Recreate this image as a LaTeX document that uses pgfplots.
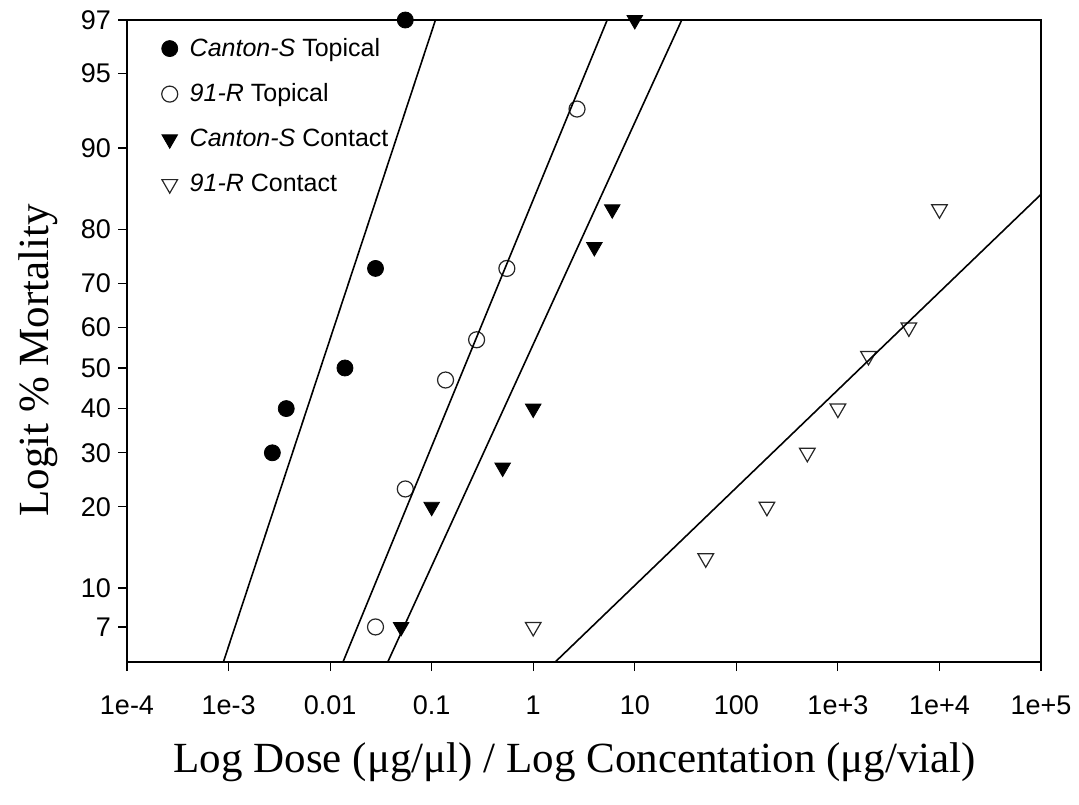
\documentclass[border=0pt]{standalone}
\usepackage{fontspec}
\setmainfont{Liberation Sans}
\newfontfamily\seriffont{Liberation Serif}
\usepackage{pgfplots}
\pgfplotsset{compat=1.18}
\begin{document}
\begin{tikzpicture}
\useasboundingbox (0,0) rectangle (539.5pt,402pt);
\begin{axis}[
  at={(63.5pt,71pt)}, anchor=south west,
  width=457pt, height=321pt, scale only axis,
  xmode=log, xmin=1e-4, xmax=1e5,
  ymin=-2.937, ymax=3.4761,
  y filter/.expression={ln(y/(100-y))},
  xtick={1e-4,1e-3,1e-2,1e-1,1,10,100,1e3,1e4,1e5},
  xticklabels={1e-4,1e-3,0.01,0.1,1,10,100,1e+3,1e+4,1e+5},
  xminorticks=false, yminorticks=false,
  ytick={-2.5867,-2.1972,-1.3863,-0.8473,-0.4055,0,0.4055,0.8473,1.3863,2.1972,2.9444,3.4761},
  yticklabels={7,10,20,30,40,50,60,70,80,90,95,97},
  tick align=outside, xtick pos=bottom, ytick pos=left,
  major tick length=4.5pt,
  tick style={black, line width=0.6pt},
  axis line style={line width=0.6pt},
  tick label style={font=\fontsize{13.5}{16}\selectfont},
  xticklabel style={yshift=-9pt},
  xlabel={Log Dose (μg/μl) / Log Concentation (μg/vial)},
  ylabel={Logit \% Mortality},
  label style={font=\seriffont\fontsize{21.5}{26}\selectfont},
  xlabel style={at={(axis description cs:0.49,0)}, anchor=center, yshift=-50pt},
  ylabel style={at={(axis description cs:0,0.47)}, anchor=center, yshift=44.5pt},
  clip mode=individual,
  legend style={draw=none, fill=none, at={(0.031,0.985)}, anchor=north west,
    font=\fontsize{12.5}{15}\selectfont, row sep=8.2pt},
  legend cell align=left,
]
\addplot[only marks, mark=*, mark size=4pt, mark options={fill=black, draw=black}]
  coordinates {(0.0027,30) (0.0037,40) (0.014,50) (0.028,73) (0.055,97)};
\addlegendentry{\hspace{4pt}\textit{Canton-S} Topical}
\addplot[only marks, mark=o, mark size=4pt, mark options={draw=black!85, fill=white, line width=0.6pt}]
  coordinates {(0.028,7) (0.055,23) (0.137,47) (0.277,57) (0.55,73) (2.7,93)};
\addlegendentry{\hspace{4pt}\textit{91-R} Topical}
\addplot[only marks, mark=triangle*, mark size=4.5pt, mark options={rotate=180, fill=black, draw=black}]
  coordinates {(0.05,7) (0.1,20) (0.5,27) (1,40) (4,77) (6,83) (10,97)};
\addlegendentry{\hspace{4pt}\textit{Canton-S} Contact}
\addplot[only marks, mark=triangle, mark size=4.5pt, mark options={rotate=180, draw=black!85, fill=white, line width=0.6pt}]
  coordinates {(1,7) (50,13) (200,20) (500,30) (1000,40) (2000,53) (5000,60) (10000,83)};
\addlegendentry{\hspace{4pt}\textit{91-R} Contact}
\addplot[black, line width=0.8pt, forget plot] coordinates {(0.00089,5.04) (0.109,97)};
\addplot[black, line width=0.8pt, forget plot] coordinates {(0.0134,5.04) (5.35,97)};
\addplot[black, line width=0.8pt, forget plot] coordinates {(0.037,5.04) (29,97)};
\addplot[black, line width=0.8pt, forget plot] coordinates {(1.65,5.04) (1e5,85)};
\end{axis}
\end{tikzpicture}
\end{document}
